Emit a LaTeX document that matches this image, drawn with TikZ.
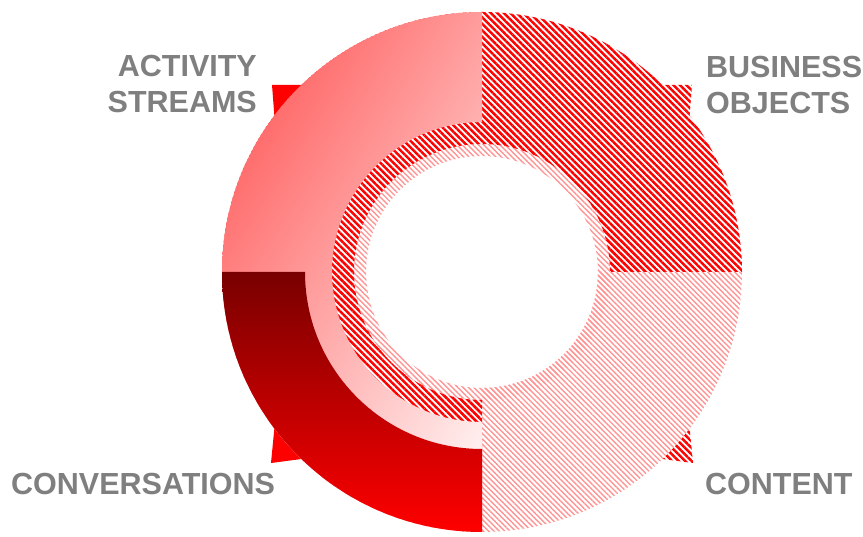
\documentclass[tikz,border=0pt]{standalone}
\usepackage{fontspec}
\setmainfont{Liberation Sans}
\usepackage{tikz}
\usetikzlibrary{patterns.meta,shadings}
\definecolor{labelGray}{HTML}{7F7F7F}
\definecolor{streamUL}{HTML}{FF4848}
\definecolor{streamUR}{HTML}{FF9C9C}
\definecolor{streamLL}{HTML}{FFB4B4}
\definecolor{convDark}{HTML}{780000}

\begin{document}
\begin{tikzpicture}[
    x=1pt,y=1pt,
    lab/.style={font=\fontsize{30.5}{36.5}\selectfont\bfseries,text=labelGray,inner sep=0pt},
    dense/.style={pattern={Lines[angle=-45,distance=4.6pt,line width=2.5pt]},pattern color=red},
    light/.style={pattern={Lines[angle=-45,distance=3.8pt,line width=1.4pt]},pattern color=red!42}
  ]
  \useasboundingbox (0,0) rectangle (863,537);
  \coordinate (C) at (482,265);

  % arrow tips behind the ring
  \fill[red] ([shift={(C)}]134:260) -- (272,452) -- ([shift={(C)}]143:260)
    arc[start angle=143,end angle=134,radius=260] -- cycle;
  \path[dense] ([shift={(C)}]46:260) -- (692,452) -- ([shift={(C)}]37:260)
    arc[start angle=37,end angle=46,radius=260] -- cycle;
  \fill[red] ([shift={(C)}]226:260) -- (271,74) -- ([shift={(C)}]217:260)
    arc[start angle=217,end angle=226,radius=260] -- cycle;
  \path[dense] ([shift={(C)}]314:260) -- (693,74) -- ([shift={(C)}]323:260)
    arc[start angle=323,end angle=314,radius=260] -- cycle;

  % content
  \path[light,even odd rule] (C) circle[radius=128] (C) circle[radius=116];
  \path[light] ([shift={(C)}]270:116) -- ([shift={(C)}]270:260)
    arc[start angle=270,end angle=360,radius=260] -- ([shift={(C)}]0:116)
    arc[start angle=360,end angle=270,radius=116] -- cycle;

  % business objects
  \path[dense] ([shift={(C)}]0:128) -- ([shift={(C)}]0:260)
    arc[start angle=0,end angle=270,radius=260] -- ([shift={(C)}]270:128)
    arc[start angle=270,end angle=0,radius=128] -- cycle;

  % activity streams
  \shade[upper left=streamUL,upper right=streamUR,lower left=streamLL,lower right=white]
    ([shift={(C)}]90:150) -- ([shift={(C)}]90:260)
    arc[start angle=90,end angle=270,radius=260] -- ([shift={(C)}]270:150)
    arc[start angle=270,end angle=90,radius=150] -- cycle;

  % conversations
  \shade[top color=convDark,bottom color=red]
    ([shift={(C)}]180:177) -- ([shift={(C)}]180:260)
    arc[start angle=180,end angle=270,radius=260] -- ([shift={(C)}]270:177)
    arc[start angle=270,end angle=180,radius=177] -- cycle;

  \node[lab,align=right,anchor=base east] (act) at (257,424) {ACTIVITY\\STREAMS};
  \node[lab,align=left,anchor=base west] (bus) at (706,423) {BUSINESS\\OBJECTS};
  \node[lab,anchor=base west] (conv) at (11,42) {CONVERSATIONS};
  \node[lab,anchor=base west] (cont) at (705,42) {CONTENT};
\end{tikzpicture}
\end{document}
